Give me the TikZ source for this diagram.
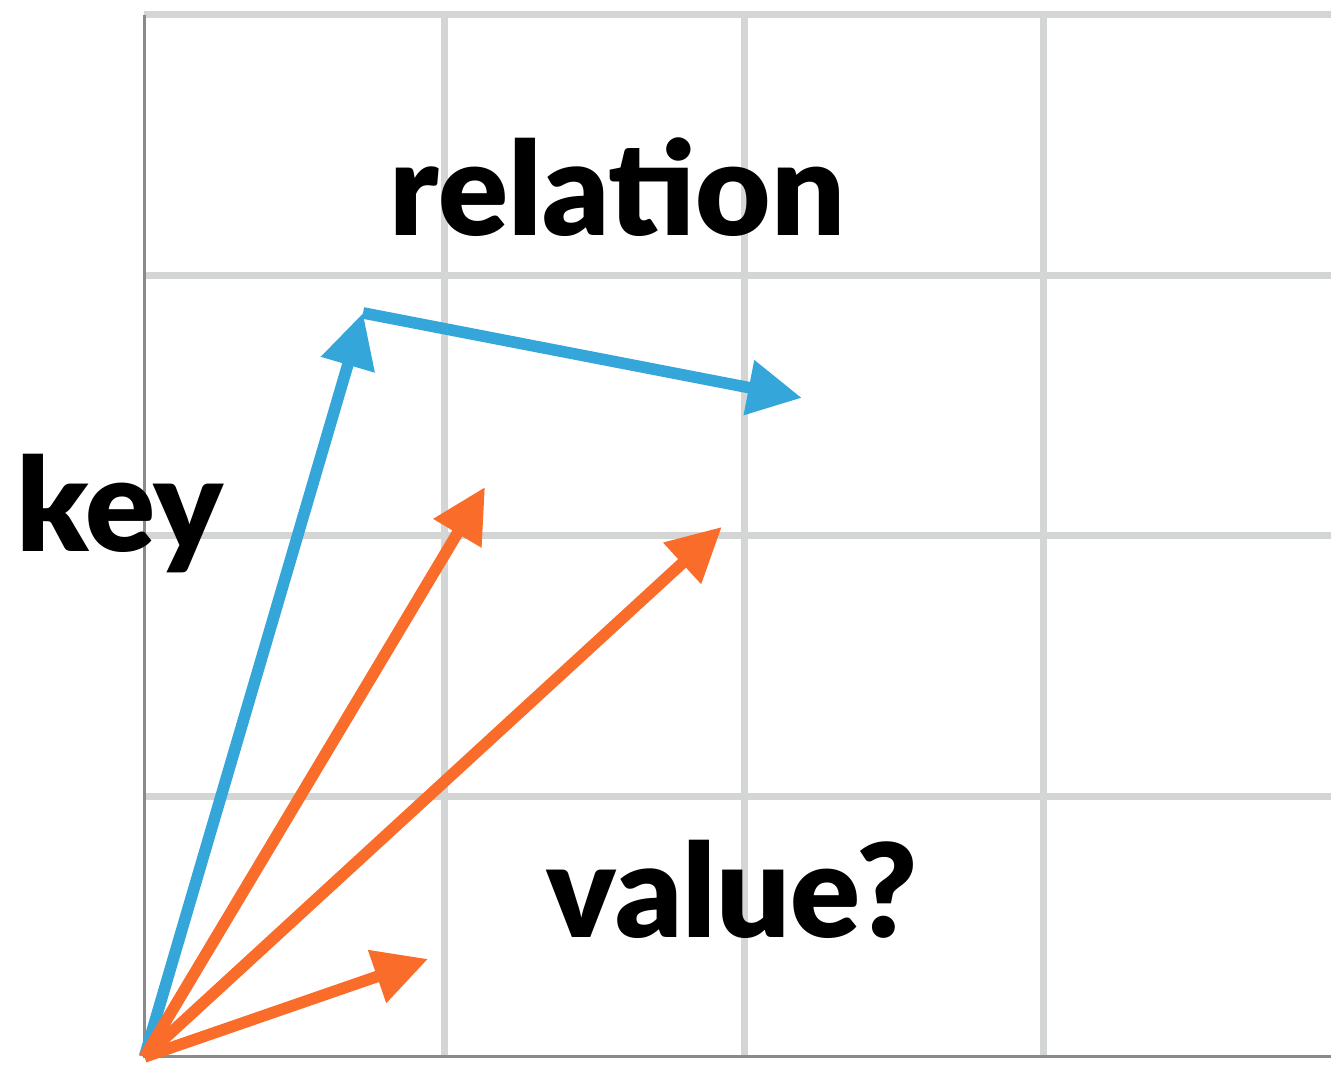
\documentclass[tikz,border=0pt]{standalone}
\usepackage{fontspec}
\setmainfont{Lato}[BoldFont={Lato Black}]
\usepackage{xcolor}
\usepackage{tikz}
\usetikzlibrary{arrows.meta, positioning, calc}

\definecolor{keyblue}{HTML}{34A6DA}
\definecolor{valorange}{HTML}{F96C2A}
\definecolor{gridgray}{HTML}{D4D5D5}
\definecolor{axisgray}{HTML}{8A8A8A}

\begin{document}
\begin{tikzpicture}[
        x=2.998cm, y=2.606cm,
        gridline/.style={draw=gridgray, line width=2pt},
        axisline/.style={draw=axisgray, line width=0.85pt},
        vec/.style={line width=3.3pt, -{Triangle[length=0.54cm, width=0.53cm]}},
        keyvec/.style={vec, draw=keyblue, fill=keyblue},
        valvec/.style={vec, draw=valorange, fill=valorange},
        word/.style={anchor=base, font=\fontsize{37}{40}\selectfont\bfseries, inner sep=0pt}
    ]
    \useasboundingbox (-0.482,-0.050) rectangle (3.958,4.056);

    % Grid
    \foreach \gx in {1,2,3} {
        \draw[gridline] (\gx,0) -- (\gx,4);
    }
    \foreach \gy in {1,2,3,4} {
        \draw[gridline] (0,\gy) -- (3.958,\gy);
    }
    \draw[axisline] (0,4) -- (0,0) -- (3.958,0);

    % Points
    \coordinate (origin) at (0,0);
    \coordinate (key_tip) at (0.729,2.855);
    \coordinate (rel_tip) at (2.193,2.529);
    \coordinate (val_a) at (1.136,2.187);
    \coordinate (val_b) at (1.926,2.034);
    \coordinate (val_c) at (0.946,0.376);

    % Key and relation
    \draw[keyvec] (origin) -- (key_tip);
    \draw[keyvec] (key_tip) -- (rel_tip);

    % Candidate values
    \draw[valvec] (origin) -- (val_a);
    \draw[valvec] (origin) -- (val_b);
    \draw[valvec] (origin) -- (val_c);

    % Labels
    \node[word] (relation_label) at (1.578,3.154) {relation};
    \node[word] (key_label) at (-0.082,1.938) {key};
    \node[word] (value_label) at (1.961,0.457) {value?};

\end{tikzpicture}
\end{document}
